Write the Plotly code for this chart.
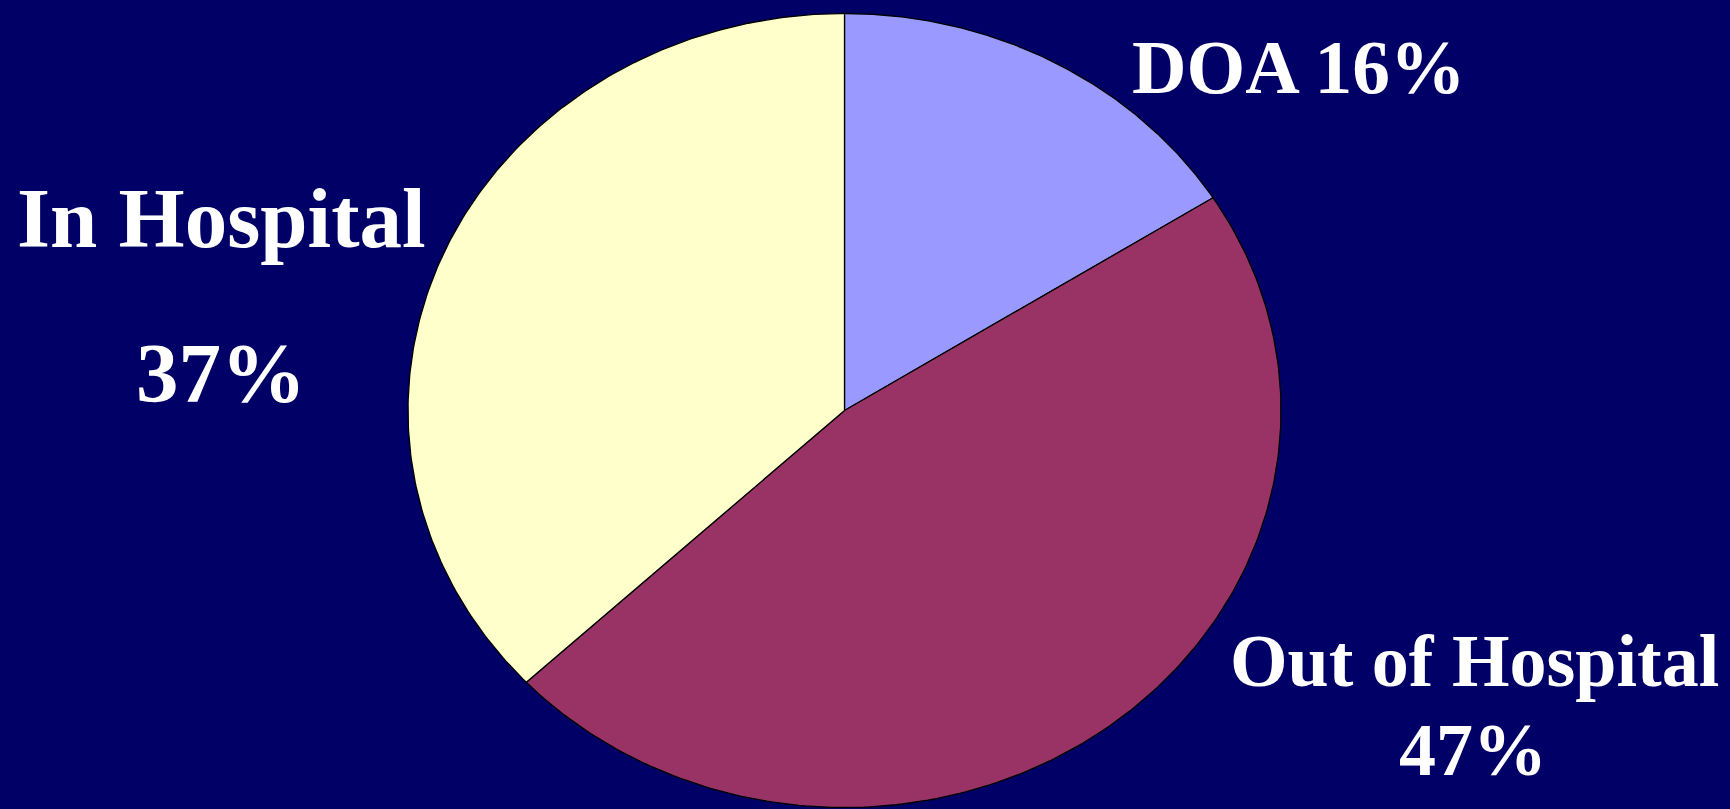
import numpy as np
import plotly.graph_objects as go

# Cause-of-death location breakdown
categories = ["DOA", "Out of Hospital", "In Hospital"]
values = [16, 47, 37]
colors = ["#9999FF", "#993366", "#FFFFCC"]

BG = "#000066"
W, H = 1730, 809

# Ellipse placement in pixels (the pie is drawn on a unit circle and
# stretched by the axes' own scales)
cx_px, cy_px = 844.5, 410.5
rx_px, ry_px = 436.5, 397.0

x_range = [-cx_px / rx_px, (W - cx_px) / rx_px]
y_range = [-(H - cy_px) / ry_px, cy_px / ry_px]

fig = go.Figure()

total = float(sum(values))
start = 90.0  # 12 o'clock, going clockwise
for name, v, c in zip(categories, values, colors):
    sweep = 360.0 * v / total
    theta = np.radians(np.linspace(start, start - sweep, 200))
    xs = np.concatenate([[0.0], np.cos(theta), [0.0]])
    ys = np.concatenate([[0.0], np.sin(theta), [0.0]])
    fig.add_trace(go.Scatter(
        x=xs, y=ys, mode="lines", fill="toself", fillcolor=c,
        line=dict(color="black", width=1.3), name=name,
        hoverinfo="skip", showlegend=False,
    ))
    start -= sweep

font_doa = dict(family="Liberation Serif", size=75.5, color="white")
font_small = dict(family="Liberation Serif", size=74, color="white")
font_big = dict(family="Liberation Serif", size=85, color="white")

def label(text, x_px, y_px, font):
    fig.add_annotation(
        text=f"<b>{text}</b>", x=x_px / W, y=1 - y_px / H,
        xref="paper", yref="paper", xanchor="center", yanchor="middle",
        showarrow=False, font=font,
    )

label(f"{categories[0]} {values[0]}%", 1298, 67, font_doa)
label(f"{categories[2]}", 222, 218, font_big)
label(f"{values[2]}%", 221, 373, font_big)
label(f"{categories[1]}", 1474, 661, font_small)
label(f"{values[1]}%", 1473, 750, font_small)

fig.update_layout(
    width=W, height=H,
    margin=dict(l=0, r=0, t=0, b=0),
    paper_bgcolor=BG, plot_bgcolor=BG,
    xaxis=dict(range=x_range, visible=False, fixedrange=True),
    yaxis=dict(range=y_range, visible=False, fixedrange=True),
    showlegend=False,
)

fig.write_html("out.html", config={"displayModeBar": False})
